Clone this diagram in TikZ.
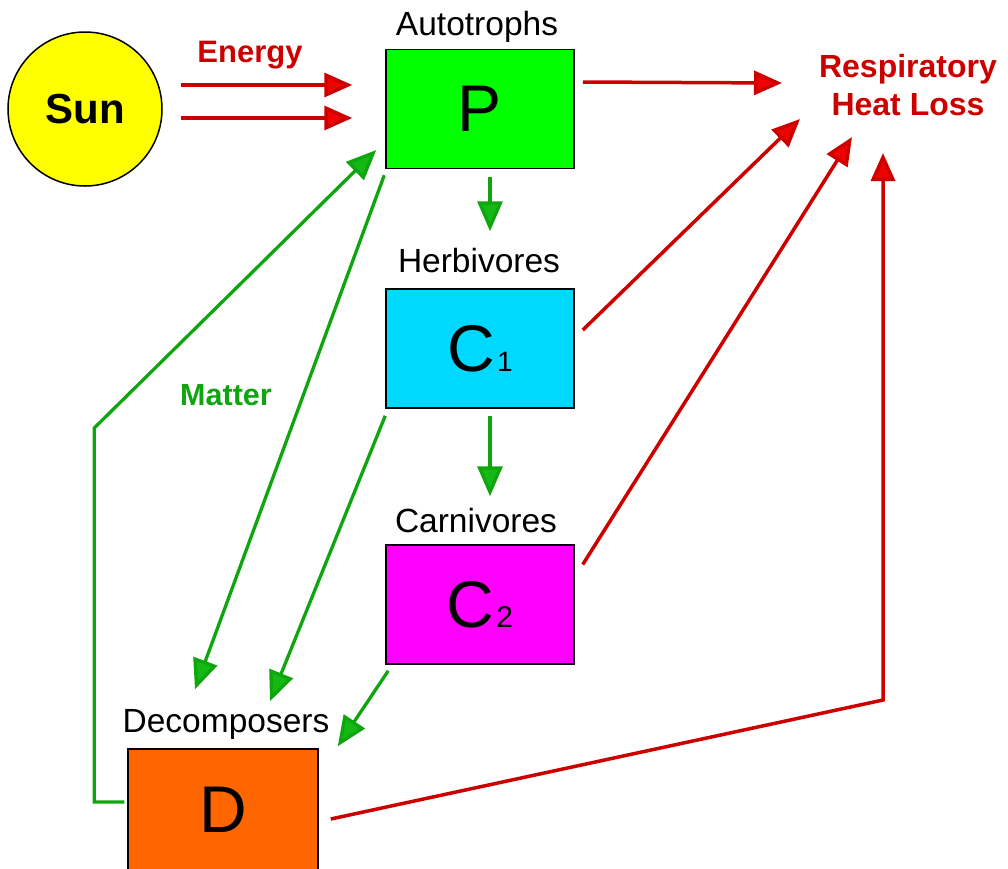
\documentclass[tikz,border=0pt]{standalone}
\usepackage{fontspec}
\setmainfont{Liberation Sans}
\usetikzlibrary{arrows.meta,calc}
\definecolor{myred}{RGB}{205,0,0}
\definecolor{headred}{RGB}{240,0,0}
\definecolor{mygreen}{RGB}{15,165,15}
\definecolor{headgreen}{RGB}{20,185,20}
\definecolor{sunyellow}{RGB}{255,255,0}
\definecolor{pgreen}{RGB}{0,255,0}
\definecolor{ccyan}{RGB}{0,217,255}
\definecolor{cmag}{RGB}{255,0,255}
\definecolor{dorange}{RGB}{255,102,0}
\begin{document}
\begin{tikzpicture}[x=1pt,y=-1pt,
  box/.style={draw=black,line width=1.5pt,minimum width=188pt,minimum height=119pt,inner sep=0pt,font=\fontsize{66}{66}\selectfont},
  lbl/.style={anchor=base,font=\fontsize{33.5}{40}\selectfont},
  redarr/.style={draw=myred,line width=3.5pt,-{Triangle[length=28pt,width=24pt,fill=headred]}},
  grnarr/.style={draw=mygreen,line width=3.3pt,-{Triangle[length=30pt,width=25pt,fill=headgreen]}}]
\useasboundingbox (0,0) rectangle (1008,868);
% nodes
\node[circle,draw=black,line width=1.5pt,fill=sunyellow,minimum size=154pt,inner sep=0pt,font=\bfseries\fontsize{42}{42}\selectfont] (sun) at (85,109) {Sun};
\node[box,fill=pgreen] (P) at (480,109) {P};
\node[box,fill=ccyan] (C1) at (480,348.5) {C{\fontsize{28}{28}\selectfont\kern2pt 1}};
\node[box,fill=cmag] (C2) at (480,604.5) {C{\fontsize{30}{30}\selectfont\kern2pt 2}};
\node[box,fill=dorange,minimum width=190pt,minimum height=122pt] (D) at (223,810) {D};
% labels
\node[lbl] (lblP) at (477,35) {Autotrophs};
\node[lbl] (lblC1) at (479,272) {Herbivores};
\node[lbl] (lblC2) at (476,532) {Carnivores};
\node[lbl] (lblD) at (226,732) {Decomposers};
\node[anchor=base,text=myred,font=\bfseries\fontsize{31}{38}\selectfont] (energy) at (250,62) {Energy};
\node[anchor=base,text=myred,font=\bfseries\fontsize{32}{38}\selectfont,align=center] (heat) at (908,115) {Respiratory\\Heat Loss};
\node[anchor=base,text=mygreen,font=\bfseries\fontsize{30.5}{36}\selectfont] (matter) at (226,405) {Matter};
% free ends
\coordinate (h1) at (782,83);
\coordinate (h2) at (800,119);
\coordinate (h3) at (852,137);
\coordinate (h4) at (883,153);
\coordinate (hc) at (883,700);
% energy
\draw[redarr] ([shift={(18,-24)}]sun.east) -- ([shift={(-33,-24)}]P.west);
\draw[redarr] ([shift={(18,9)}]sun.east) -- ([shift={(-33,9)}]P.west);
% heat loss
\draw[redarr] ([shift={(8,-27)}]P.east) -- (h1);
\draw[redarr] ([shift={(8,-18.5)}]C1.east) -- (h2);
\draw[redarr] ([shift={(8,-40)}]C2.east) -- (h3);
\draw[redarr] ([shift={(12,9)}]D.east) -- (hc) -- (h4);
% matter
\draw[grnarr] ([shift={(10,8)}]P.south) -- ([shift={(10,-57)}]C1.north);
\draw[grnarr] ([shift={(10,7)}]C1.south) -- ([shift={(10,-48)}]C2.north);
\draw[grnarr] ([shift={(-1,6)}]P.south west) -- ([shift={(-28,-59)}]D.north);
\draw[grnarr] ([shift={(0,7)}]C1.south west) -- ([shift={(47,-47)}]D.north);
\draw[grnarr] ([shift={(3,6)}]C2.south west) -- ([shift={(19,-2)}]D.north east);
\draw[grnarr] ([shift={(-3,-8)}]D.west) -- ++(-30,0) -- ++(0,-374) -- ([shift={(-9,41)}]P.west);
\end{tikzpicture}
\end{document}
